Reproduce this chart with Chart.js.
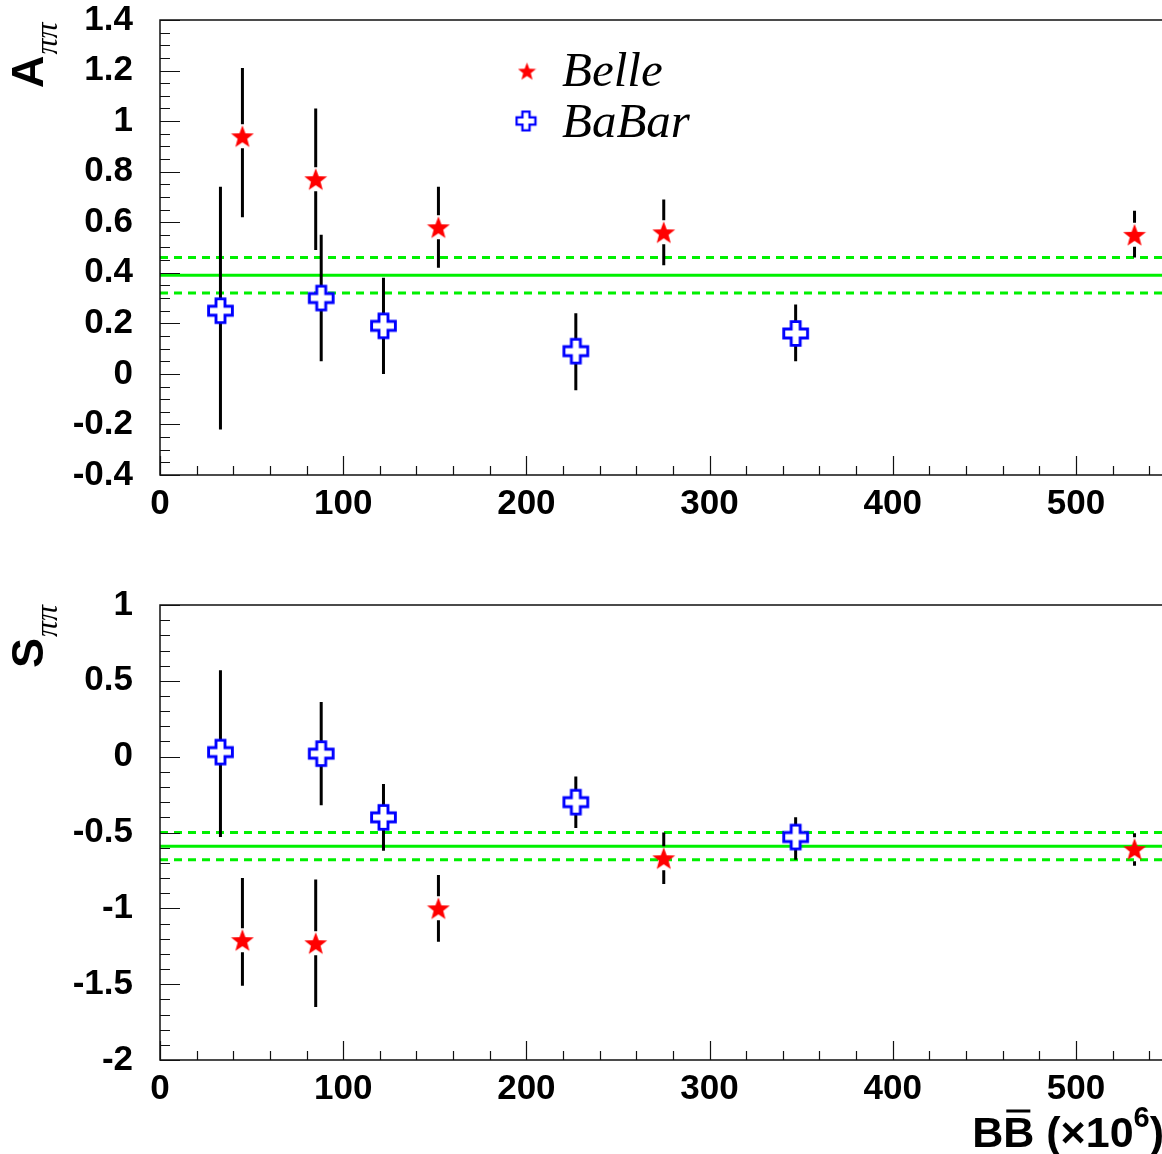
<!DOCTYPE html>
<html>
<head>
<meta charset="utf-8">
<script src="https://cdn.jsdelivr.net/npm/chart.js@4.4.0/dist/chart.umd.min.js"></script>
<style>
  html, body { margin: 0; padding: 0; background: #fff; }
  #wrap { position: relative; width: 1162px; height: 1154px; overflow: hidden; }
  canvas { position: absolute; left: 0; }
  #chartA { top: 0; }
  #chartS { top: 560px; }
</style>
</head>
<body>
<div id="wrap">
  <canvas id="chartA" width="1162" height="540"></canvas>
  <canvas id="chartS" width="1162" height="594"></canvas>
</div>
<script>
// number of BB pairs (x10^6)
const belleN = [45, 85, 152, 275, 532];
const babarN = [33, 88, 122, 227, 347];

// A_pipi
const belleA    = [0.94, 0.77, 0.58, 0.56, 0.55];
const belleAup  = [0.27, 0.28, 0.16, 0.13, 0.095];
const belleAdn  = [0.32, 0.28, 0.16, 0.13, 0.09];
const babarA    = [0.25, 0.30, 0.19, 0.09, 0.16];
const babarAup  = [0.49, 0.25, 0.19, 0.15, 0.115];
const babarAdn  = [0.47, 0.25, 0.19, 0.155, 0.11];
const avgA = [0.39, 0.07];

// S_pipi
const belleS    = [-1.21, -1.23, -1.00, -0.67, -0.61];
const belleSup  = [0.41, 0.42, 0.22, 0.17, 0.105];
const belleSdn  = [0.30, 0.42, 0.22, 0.17, 0.11];
const babarS    = [0.03, 0.02, -0.40, -0.30, -0.53];
const babarSup  = [0.54, 0.34, 0.22, 0.17, 0.13];
const babarSdn  = [0.56, 0.34, 0.22, 0.17, 0.15];
const avgS = [-0.59, 0.09];

// axes
const xTicks = [0, 100, 200, 300, 400, 500];
const yTicksA = [-0.4, -0.2, 0, 0.2, 0.4, 0.6, 0.8, 1, 1.2, 1.4];
const yTicksS = [-2, -1.5, -1, -0.5, 0, 0.5, 1];
const xMax = 547;

const green = '#00f000';
const tickFont = { family: 'Liberation Sans, Arial, sans-serif', weight: 'bold', size: 35 };

function makeStar(size, color) {
  const c = document.createElement('canvas');
  c.width = c.height = size;
  const g = c.getContext('2d');
  const r = size / 2, ri = r * 0.42;
  g.beginPath();
  for (let k = 0; k < 10; k++) {
    const a = -Math.PI / 2 + k * Math.PI / 5;
    const rr = k % 2 ? ri : r;
    g.lineTo(r + rr * Math.cos(a), r + 1 + rr * Math.sin(a));
  }
  g.closePath();
  g.fillStyle = color;
  g.fill();
  return c;
}

function makeCross(size, color) {
  const c = document.createElement('canvas');
  c.width = c.height = size;
  const g = c.getContext('2d');
  const m = size / 2, L = size * 0.41, w = size * 0.155;
  g.beginPath();
  g.moveTo(m - w, m - L); g.lineTo(m + w, m - L); g.lineTo(m + w, m - w);
  g.lineTo(m + L, m - w); g.lineTo(m + L, m + w); g.lineTo(m + w, m + w);
  g.lineTo(m + w, m + L); g.lineTo(m - w, m + L); g.lineTo(m - w, m + w);
  g.lineTo(m - L, m + w); g.lineTo(m - L, m - w); g.lineTo(m - w, m - w);
  g.closePath();
  g.fillStyle = '#fff';
  g.fill();
  g.lineWidth = size * 0.1;
  g.strokeStyle = color;
  g.stroke();
  return c;
}

const starImg = makeStar(24, '#ff0000');
const crossImg = makeCross(29, '#0000ff');
const starSmall = makeStar(19, '#ff0000');
const crossSmall = makeCross(23, '#0000ff');

// ROOT-like frame, inward ticks, error bars, titles
const rootStyle = {
  id: 'rootStyle',
  beforeDatasetDraw(chart, args) {
    const ds = chart.data.datasets[args.index];
    if (!ds.errUp) return;
    const ctx = chart.ctx, x = chart.scales.x, y = chart.scales.y;
    const gap = 12;
    ctx.save();
    ctx.strokeStyle = '#000';
    ctx.lineWidth = 3;
    ds.data.forEach((p, i) => {
      const px = x.getPixelForValue(p.x), py = y.getPixelForValue(p.y);
      const yt = y.getPixelForValue(p.y + ds.errUp[i]);
      const yb = y.getPixelForValue(p.y - ds.errDn[i]);
      ctx.beginPath();
      if (yt < py - gap) { ctx.moveTo(px, yt); ctx.lineTo(px, py - gap); }
      if (yb > py + gap) { ctx.moveTo(px, py + gap); ctx.lineTo(px, yb); }
      ctx.stroke();
    });
    ctx.restore();
  },
  afterDraw(chart, args, o) {
    const ctx = chart.ctx, a = chart.chartArea;
    const x = chart.scales.x, y = chart.scales.y;
    ctx.save();
    ctx.strokeStyle = '#111';
    ctx.lineWidth = 1.5;
    ctx.beginPath();
    ctx.moveTo(a.right, a.top); ctx.lineTo(a.left, a.top);
    ctx.lineTo(a.left, a.bottom); ctx.lineTo(a.right, a.bottom);
    ctx.stroke();

    // y ticks
    ctx.lineWidth = 1.2;
    ctx.beginPath();
    const nY = Math.round((y.max - y.min) / o.yMinor);
    for (let k = 0; k <= nY; k++) {
      const v = y.min + k * o.yMinor;
      const q = v / o.yMajor;
      const major = Math.abs(q - Math.round(q)) < 1e-6;
      const py = Math.round(y.getPixelForValue(v)) + 0.5;
      ctx.moveTo(a.left, py); ctx.lineTo(a.left + (major ? 20 : 10), py);
    }
    // x ticks
    for (let v = 0; v <= xMax; v += 20) {
      const major = v % 100 === 0;
      const px = Math.round(x.getPixelForValue(v)) + 0.5;
      ctx.moveTo(px, a.bottom); ctx.lineTo(px, a.bottom - (major ? 19 : 9));
    }
    ctx.stroke();

    // y title, rotated, letter + italic subscript
    ctx.fillStyle = '#000';
    ctx.translate(43, o.titleY);
    ctx.rotate(-Math.PI / 2);
    ctx.textBaseline = 'alphabetic';
    ctx.textAlign = 'left';
    ctx.font = 'bold 45px "Liberation Sans", Arial, sans-serif';
    ctx.fillText(o.title, 0, 0);
    const w = ctx.measureText(o.title).width;
    ctx.font = 'italic 32px "Liberation Serif", "Times New Roman", serif';
    ctx.fillText('ππ', w + 1, 14);
    ctx.restore();

    if (o.legend) {
      ctx.save();
      ctx.drawImage(starSmall, 527 - 9.5, 71 - 9.5);
      ctx.drawImage(crossSmall, 526 - 11.5, 121 - 11.5);
      ctx.fillStyle = '#000';
      ctx.font = 'italic 49px "Liberation Serif", "Times New Roman", serif';
      ctx.textBaseline = 'alphabetic';
      ctx.fillText('Belle', 562, 86);
      ctx.fillText('BaBar', 562, 137);
      ctx.restore();
    }

    if (o.xTitle) {
      ctx.save();
      ctx.fillStyle = '#000';
      ctx.strokeStyle = '#000';
      ctx.textBaseline = 'alphabetic';
      const big = 'bold 43px "Liberation Sans", Arial, sans-serif';
      const sup = 'bold 29px "Liberation Sans", Arial, sans-serif';
      ctx.font = big;
      const wB = ctx.measureText('B').width;
      const wMain = ctx.measureText('BB (×10').width;
      const wClose = ctx.measureText(')').width;
      ctx.font = sup;
      const wSup = ctx.measureText('6').width;
      const base = 587;
      let cx = 1164 - (wMain + wSup + wClose);
      ctx.font = big;
      ctx.fillText('BB (×10', cx, base);
      // bar over the second B
      ctx.lineWidth = 3;
      ctx.beginPath();
      ctx.moveTo(cx + wB + 3, base - 36);
      ctx.lineTo(cx + 2 * wB - 4, base - 36);
      ctx.stroke();
      cx += wMain;
      ctx.font = sup;
      ctx.fillText('6', cx, base - 20);
      cx += wSup;
      ctx.font = big;
      ctx.fillText(')', cx, base);
      ctx.restore();
    }
  }
};

function pts(xs, ys) {
  return xs.map((v, i) => ({ x: v, y: ys[i] }));
}

function avgLines(avg) {
  const mk = (v, dash, order) => ({
    type: 'line',
    data: [{ x: 0, y: v }, { x: xMax, y: v }],
    borderColor: green,
    borderWidth: 3,
    borderDash: dash,
    pointRadius: 0,
    order: order
  });
  return [
    mk(avg[0], [], 5),
    mk(avg[0] + avg[1], [8, 6], 6),
    mk(avg[0] - avg[1], [8, 6], 7)
  ];
}

function makeChart(id, cfg) {
  const ctx = document.getElementById(id).getContext('2d');
  return new Chart(ctx, {
    data: {
      datasets: [
        ...avgLines(cfg.avg),
        {
          type: 'scatter', label: 'Belle',
          data: pts(belleN, cfg.belle), errUp: cfg.belleUp, errDn: cfg.belleDn,
          pointStyle: starImg, pointRadius: 11, order: 1
        },
        {
          type: 'scatter', label: 'BaBar',
          data: pts(babarN, cfg.babar), errUp: cfg.babarUp, errDn: cfg.babarDn,
          pointStyle: crossImg, pointRadius: 13, order: 2
        }
      ]
    },
    options: {
      responsive: false,
      animation: false,
      layout: { autoPadding: false, padding: { top: cfg.top, left: 0, right: 0, bottom: 0 } },
      plugins: {
        legend: { display: false },
        tooltip: { enabled: false },
        rootStyle: cfg.style
      },
      scales: {
        x: {
          type: 'linear', min: 0, max: xMax,
          grid: { display: false, drawTicks: false },
          border: { display: false },
          afterBuildTicks: s => { s.ticks = xTicks.map(v => ({ value: v })); },
          afterFit: s => { s.height = cfg.xh; s.paddingLeft = 0; s.paddingRight = 0; },
          ticks: { font: tickFont, color: '#000', padding: 8, maxRotation: 0, callback: v => String(v) }
        },
        y: {
          type: 'linear', min: cfg.yTicks[0], max: cfg.yTicks[cfg.yTicks.length - 1],
          grid: { display: false, drawTicks: false },
          border: { display: false },
          afterBuildTicks: s => { s.ticks = cfg.yTicks.map(v => ({ value: v })); },
          afterFit: s => { s.width = 160; s.paddingTop = 0; s.paddingBottom = 0; },
          ticks: { font: tickFont, color: '#000', padding: 27, callback: v => String(v) }
        }
      }
    },
    plugins: [rootStyle]
  });
}

makeChart('chartA', {
  avg: avgA, belle: belleA, belleUp: belleAup, belleDn: belleAdn,
  babar: babarA, babarUp: babarAup, babarDn: babarAdn,
  yTicks: yTicksA, top: 20, xh: 65,
  style: { yMinor: 0.05, yMajor: 0.2, title: 'A', titleY: 88, legend: true }
});

makeChart('chartS', {
  avg: avgS, belle: belleS, belleUp: belleSup, belleDn: belleSdn,
  babar: babarS, babarUp: babarSup, babarDn: babarSdn,
  yTicks: yTicksS, top: 45, xh: 94,
  style: { yMinor: 0.1, yMajor: 0.5, title: 'S', titleY: 108, xTitle: true }
});
</script>
</body>
</html>
